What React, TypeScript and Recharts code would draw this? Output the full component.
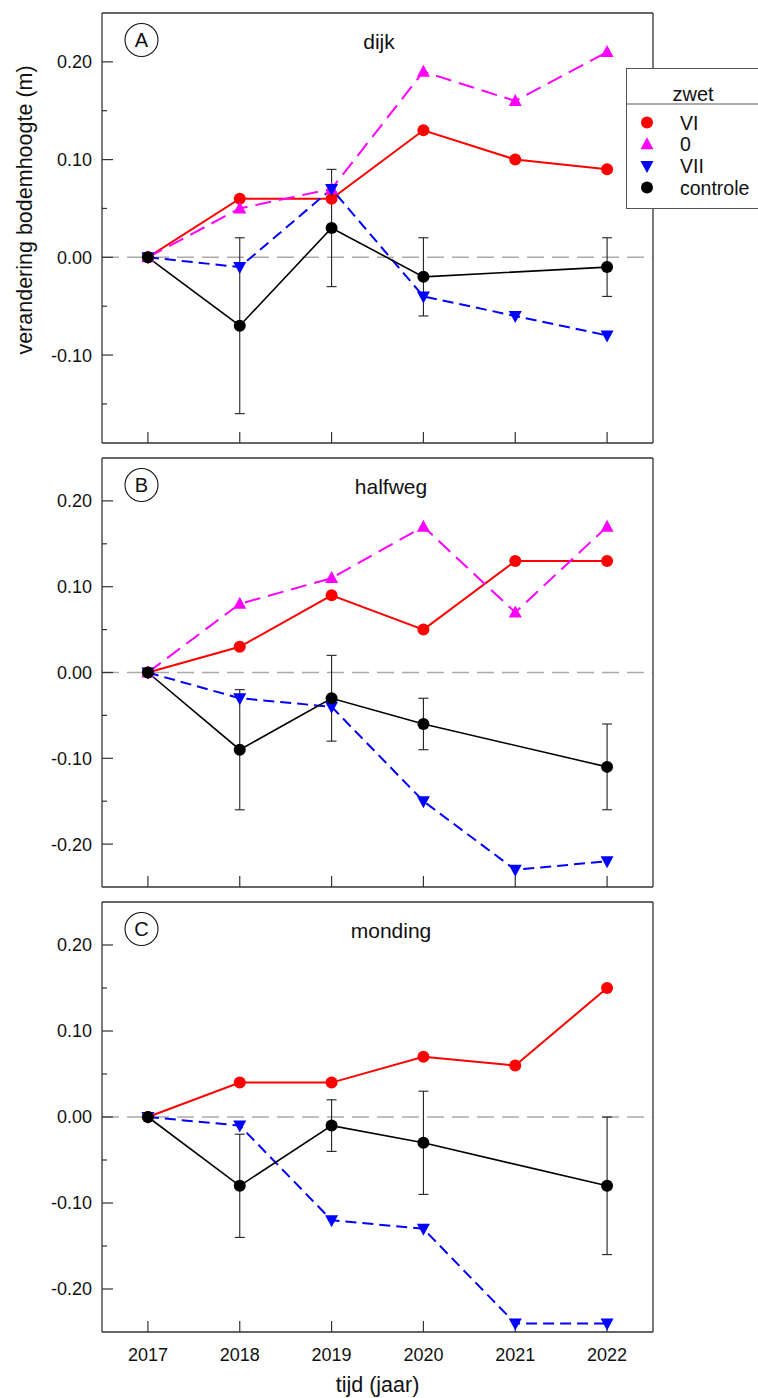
import React from "react";
import {
  LineChart,
  Line,
  XAxis,
  YAxis,
  ReferenceLine,
  ErrorBar,
  Legend,
  Customized,
} from "recharts";

const jaren = [2017, 2018, 2019, 2020, 2021, 2022];

// dijk
const dijkVI = [0, 0.06, 0.06, 0.13, 0.1, 0.09];
const dijkNul = [0, 0.05, 0.07, 0.19, 0.16, 0.21];
const dijkVII = [0, -0.01, 0.07, -0.04, -0.06, -0.08];
const dijkControle = [0, -0.07, 0.03, -0.02, null, -0.01];
const dijkLaag = [null, -0.16, -0.03, -0.06, null, -0.04];
const dijkHoog = [null, 0.02, 0.09, 0.02, null, 0.02];

// halfweg
const halfwegVI = [0, 0.03, 0.09, 0.05, 0.13, 0.13];
const halfwegNul = [0, 0.08, 0.11, 0.17, 0.07, 0.17];
const halfwegVII = [0, -0.03, -0.04, -0.15, -0.23, -0.22];
const halfwegControle = [0, -0.09, -0.03, -0.06, null, -0.11];
const halfwegLaag = [null, -0.16, -0.08, -0.09, null, -0.16];
const halfwegHoog = [null, -0.02, 0.02, -0.03, null, -0.06];

// monding (geen zwet 0)
const mondingVI = [0, 0.04, 0.04, 0.07, 0.06, 0.15];
const mondingVII = [0, -0.01, -0.12, -0.13, -0.24, -0.24];
const mondingControle = [0, -0.08, -0.01, -0.03, null, -0.08];
const mondingLaag = [null, -0.14, -0.04, -0.09, null, -0.16];
const mondingHoog = [null, -0.02, 0.02, 0.03, null, 0];

const ticksDijk = [-0.15, -0.1, -0.05, 0, 0.05, 0.1, 0.15, 0.2];
const ticksRest = [-0.2, -0.15, -0.1, -0.05, 0, 0.05, 0.1, 0.15, 0.2];

const FONT = '"Liberation Sans", Arial, sans-serif';
const AS = "#333333";
const Y_AS_BREEDTE = 40;

const reeksen = [
  { key: "VI", naam: "VI", kleur: "#ff0000", vorm: "cirkel", streep: undefined, dikte: 2 },
  { key: "nul", naam: "0", kleur: "#ff00ff", vorm: "op", streep: "16 8", dikte: 2 },
  { key: "VII", naam: "VII", kleur: "#0000ff", vorm: "neer", streep: "11 6", dikte: 2 },
  { key: "controle", naam: "controle", kleur: "#000000", vorm: "cirkel", streep: undefined, dikte: 1.6 },
];

type Waarde = number | null;

function maakRijen(vi: Waarde[], nul: Waarde[] | null, vii: Waarde[], ctrl: Waarde[], laag: Waarde[], hoog: Waarde[]) {
  return jaren.map((jaar, i) => {
    const c = ctrl[i];
    const l = laag[i];
    const h = hoog[i];
    return {
      jaar,
      VI: vi[i],
      nul: nul ? nul[i] : null,
      VII: vii[i],
      controle: c,
      fout: c == null || l == null || h == null ? undefined : [c - l, h - c],
    };
  });
}

const Marker = ({ cx, cy, vorm, kleur, size = 6 }: any) => {
  if (cx == null || cy == null || isNaN(cx) || isNaN(cy)) return <g />;
  if (vorm === "op") {
    return <path d={`M${cx - size - 0.5},${cy + 5}L${cx + size + 0.5},${cy + 5}L${cx},${cy - 7}Z`} fill={kleur} />;
  }
  if (vorm === "neer") {
    return <path d={`M${cx - size - 0.5},${cy - 5}L${cx + size + 0.5},${cy - 5}L${cx},${cy + 7}Z`} fill={kleur} />;
  }
  return <circle cx={cx} cy={cy} r={size} fill={kleur} />;
};

// jaartallen onder de as; de streepjes zelf tekent de as (naar binnen)
const JaarTick = ({ x, y, payload, labels }: any) =>
  labels ? (
    <text x={x} y={y + 29} textAnchor="middle" fontSize={18} fill="#111" fontFamily={FONT}>
      {payload.value}
    </text>
  ) : (
    <g />
  );

// hoofdstreepjes met label, tussenstreepjes kort en zonder label
const HoogteTick = ({ x, y, payload }: any) => {
  const v = payload.value as number;
  const hoofd = Math.abs(Math.round(v * 100)) % 10 === 0;
  return (
    <g>
      <path d={`M${x},${y}H${x + (hoofd ? 11 : 5)}`} stroke={AS} strokeWidth={1.2} fill="none" />
      {hoofd && (
        <text x={x - 10} y={y} dy="0.36em" textAnchor="end" fontSize={18} fill="#111" fontFamily={FONT}>
          {v.toFixed(2)}
        </text>
      )}
    </g>
  );
};

const LegendaInhoud = () => (
  <svg width={132} height={142} style={{ display: "block" }}>
    <rect x={0.5} y={0.5} width={150} height={140} fill="#ffffff" stroke="#555555" strokeWidth={1} />
    <line x1={0.5} x2={150} y1={36} y2={36} stroke="#555555" strokeWidth={1} />
    <text x={67} y={33} textAnchor="middle" fontSize={20} fill="#111" fontFamily={FONT}>
      zwet
    </text>
    {reeksen.map((r, i) => {
      const cy = 54.5 + i * 21.7;
      return (
        <g key={r.key}>
          <Marker cx={21} cy={cy} vorm={r.vorm} kleur={r.kleur} />
          <text x={54} y={cy + 7} fontSize={19.5} fill="#111" fontFamily={FONT}>
            {r.naam}
          </text>
        </g>
      );
    })}
  </svg>
);

interface PaneelProps {
  rijen: ReturnType<typeof maakRijen>;
  domein: [number, number];
  ticks: number[];
  top: number;
  hoogte: number;
  plotTop: number;
  plotBodem: number;
  asHoogte: number;
  letter: string;
  titel: string;
  titelX: number;
  metJaren?: boolean;
  metLegenda?: boolean;
  metYTitel?: boolean;
}

const Paneel: React.FC<PaneelProps> = ({
  rijen, domein, ticks, top, hoogte, plotTop, plotBodem, asHoogte, letter, titel, titelX, metJaren, metLegenda, metYTitel,
}) => {
  const zichtbaar = reeksen.filter((r) => rijen.some((rij: any) => rij[r.key] != null));
  const marge = {
    top: plotTop - 1,
    bottom: hoogte - plotBodem - asHoogte,
    left: 102 - Y_AS_BREEDTE,
    right: 758 - 653 - 1,
  };

  return (
    <div style={{ position: "absolute", left: 0, top, width: 758, height: hoogte }}>
      <LineChart width={758} height={hoogte} data={rijen} margin={marge}>
        <XAxis
          dataKey="jaar"
          type="number"
          domain={[2016.5, 2022.5]}
          ticks={jaren}
          interval={0}
          height={asHoogte}
          tickSize={-11}
          tickMargin={11}
          tickLine={{ stroke: AS, strokeWidth: 1.2 }}
          axisLine={{ stroke: AS, strokeWidth: 1.3 }}
          tick={(p: any) => <JaarTick {...p} labels={metJaren} />}
        />
        <XAxis
          xAxisId="boven"
          dataKey="jaar"
          type="number"
          orientation="top"
          domain={[2016.5, 2022.5]}
          height={1}
          tick={false}
          tickLine={false}
          axisLine={{ stroke: AS, strokeWidth: 1.3 }}
        />
        <YAxis
          type="number"
          domain={domein}
          allowDataOverflow
          ticks={ticks}
          interval={0}
          width={Y_AS_BREEDTE}
          tickSize={-11}
          tickMargin={11}
          tickLine={false}
          axisLine={{ stroke: AS, strokeWidth: 1.3 }}
          tick={(p: any) => <HoogteTick {...p} />}
        />
        <YAxis
          yAxisId="rechts"
          type="number"
          orientation="right"
          domain={domein}
          allowDataOverflow
          width={1}
          tick={false}
          tickLine={false}
          axisLine={{ stroke: AS, strokeWidth: 1.3 }}
        />
        <ReferenceLine y={0} stroke="#aaaaaa" strokeWidth={1.5} strokeDasharray="17 8" />
        {zichtbaar.map((r) => (
          <Line
            key={r.key}
            dataKey={r.key}
            type="linear"
            stroke={r.kleur}
            strokeWidth={r.dikte}
            strokeDasharray={r.streep}
            connectNulls
            isAnimationActive={false}
            dot={(p: any) => <Marker key={`${r.key}-${p.index}`} cx={p.cx} cy={p.cy} vorm={r.vorm} kleur={r.kleur} />}
            activeDot={false}
          >
            {r.key === "controle" && (
              <ErrorBar dataKey="fout" width={5} stroke="#222222" strokeWidth={1.1} direction="y" isAnimationActive={false} />
            )}
          </Line>
        ))}
        <Customized
          component={() => (
            <g fontFamily={FONT}>
              <circle cx={141.5} cy={plotTop + 27} r={16.5} fill="#ffffff" stroke="#111" strokeWidth={1.1} />
              <text x={141.5} y={plotTop + 34} textAnchor="middle" fontSize={20} fill="#111">
                {letter}
              </text>
              <text x={titelX} y={plotTop + 36} textAnchor="middle" fontSize={21} fill="#111">
                {titel}
              </text>
              {metYTitel && (
                <text x={25} y={210} transform="rotate(-90, 25, 210)" textAnchor="middle" dominantBaseline="central" fontSize={21.5} fill="#111">
                  verandering bodemhoogte (m)
                </text>
              )}
              {metJaren && (
                <text x={377.5} y={plotBodem + 60} textAnchor="middle" fontSize={21.5} fill="#111">
                  tijd (jaar)
                </text>
              )}
            </g>
          )}
        />
        {metLegenda && (
          <Legend
            layout="vertical"
            align="center"
            verticalAlign="middle"
            wrapperStyle={{ left: 626, top: 68, width: 132, height: 142 }}
            content={() => <LegendaInhoud />}
          />
        )}
      </LineChart>
    </div>
  );
};

const rijenDijk = maakRijen(dijkVI, dijkNul, dijkVII, dijkControle, dijkLaag, dijkHoog);
const rijenHalfweg = maakRijen(halfwegVI, halfwegNul, halfwegVII, halfwegControle, halfwegLaag, halfwegHoog);
const rijenMonding = maakRijen(mondingVI, null, mondingVII, mondingControle, mondingLaag, mondingHoog);

export default function App() {
  return (
    <div style={{ position: "absolute", left: 0, top: 0, width: 758, height: 1398, background: "#fff", fontFamily: FONT }}>
      <Paneel
        rijen={rijenDijk}
        domein={[-0.19, 0.25]}
        ticks={ticksDijk}
        top={0}
        hoogte={450}
        plotTop={13}
        plotBodem={443}
        asHoogte={1}
        letter="A"
        titel="dijk"
        titelX={379}
        metLegenda
        metYTitel
      />
      <Paneel
        rijen={rijenHalfweg}
        domein={[-0.25, 0.25]}
        ticks={ticksRest}
        top={450}
        hoogte={444}
        plotTop={8}
        plotBodem={437}
        asHoogte={1}
        letter="B"
        titel="halfweg"
        titelX={391}
      />
      <Paneel
        rijen={rijenMonding}
        domein={[-0.25, 0.25]}
        ticks={ticksRest}
        top={894}
        hoogte={504}
        plotTop={8}
        plotBodem={438}
        asHoogte={60}
        letter="C"
        titel="monding"
        titelX={391}
        metJaren
      />
    </div>
  );
}
